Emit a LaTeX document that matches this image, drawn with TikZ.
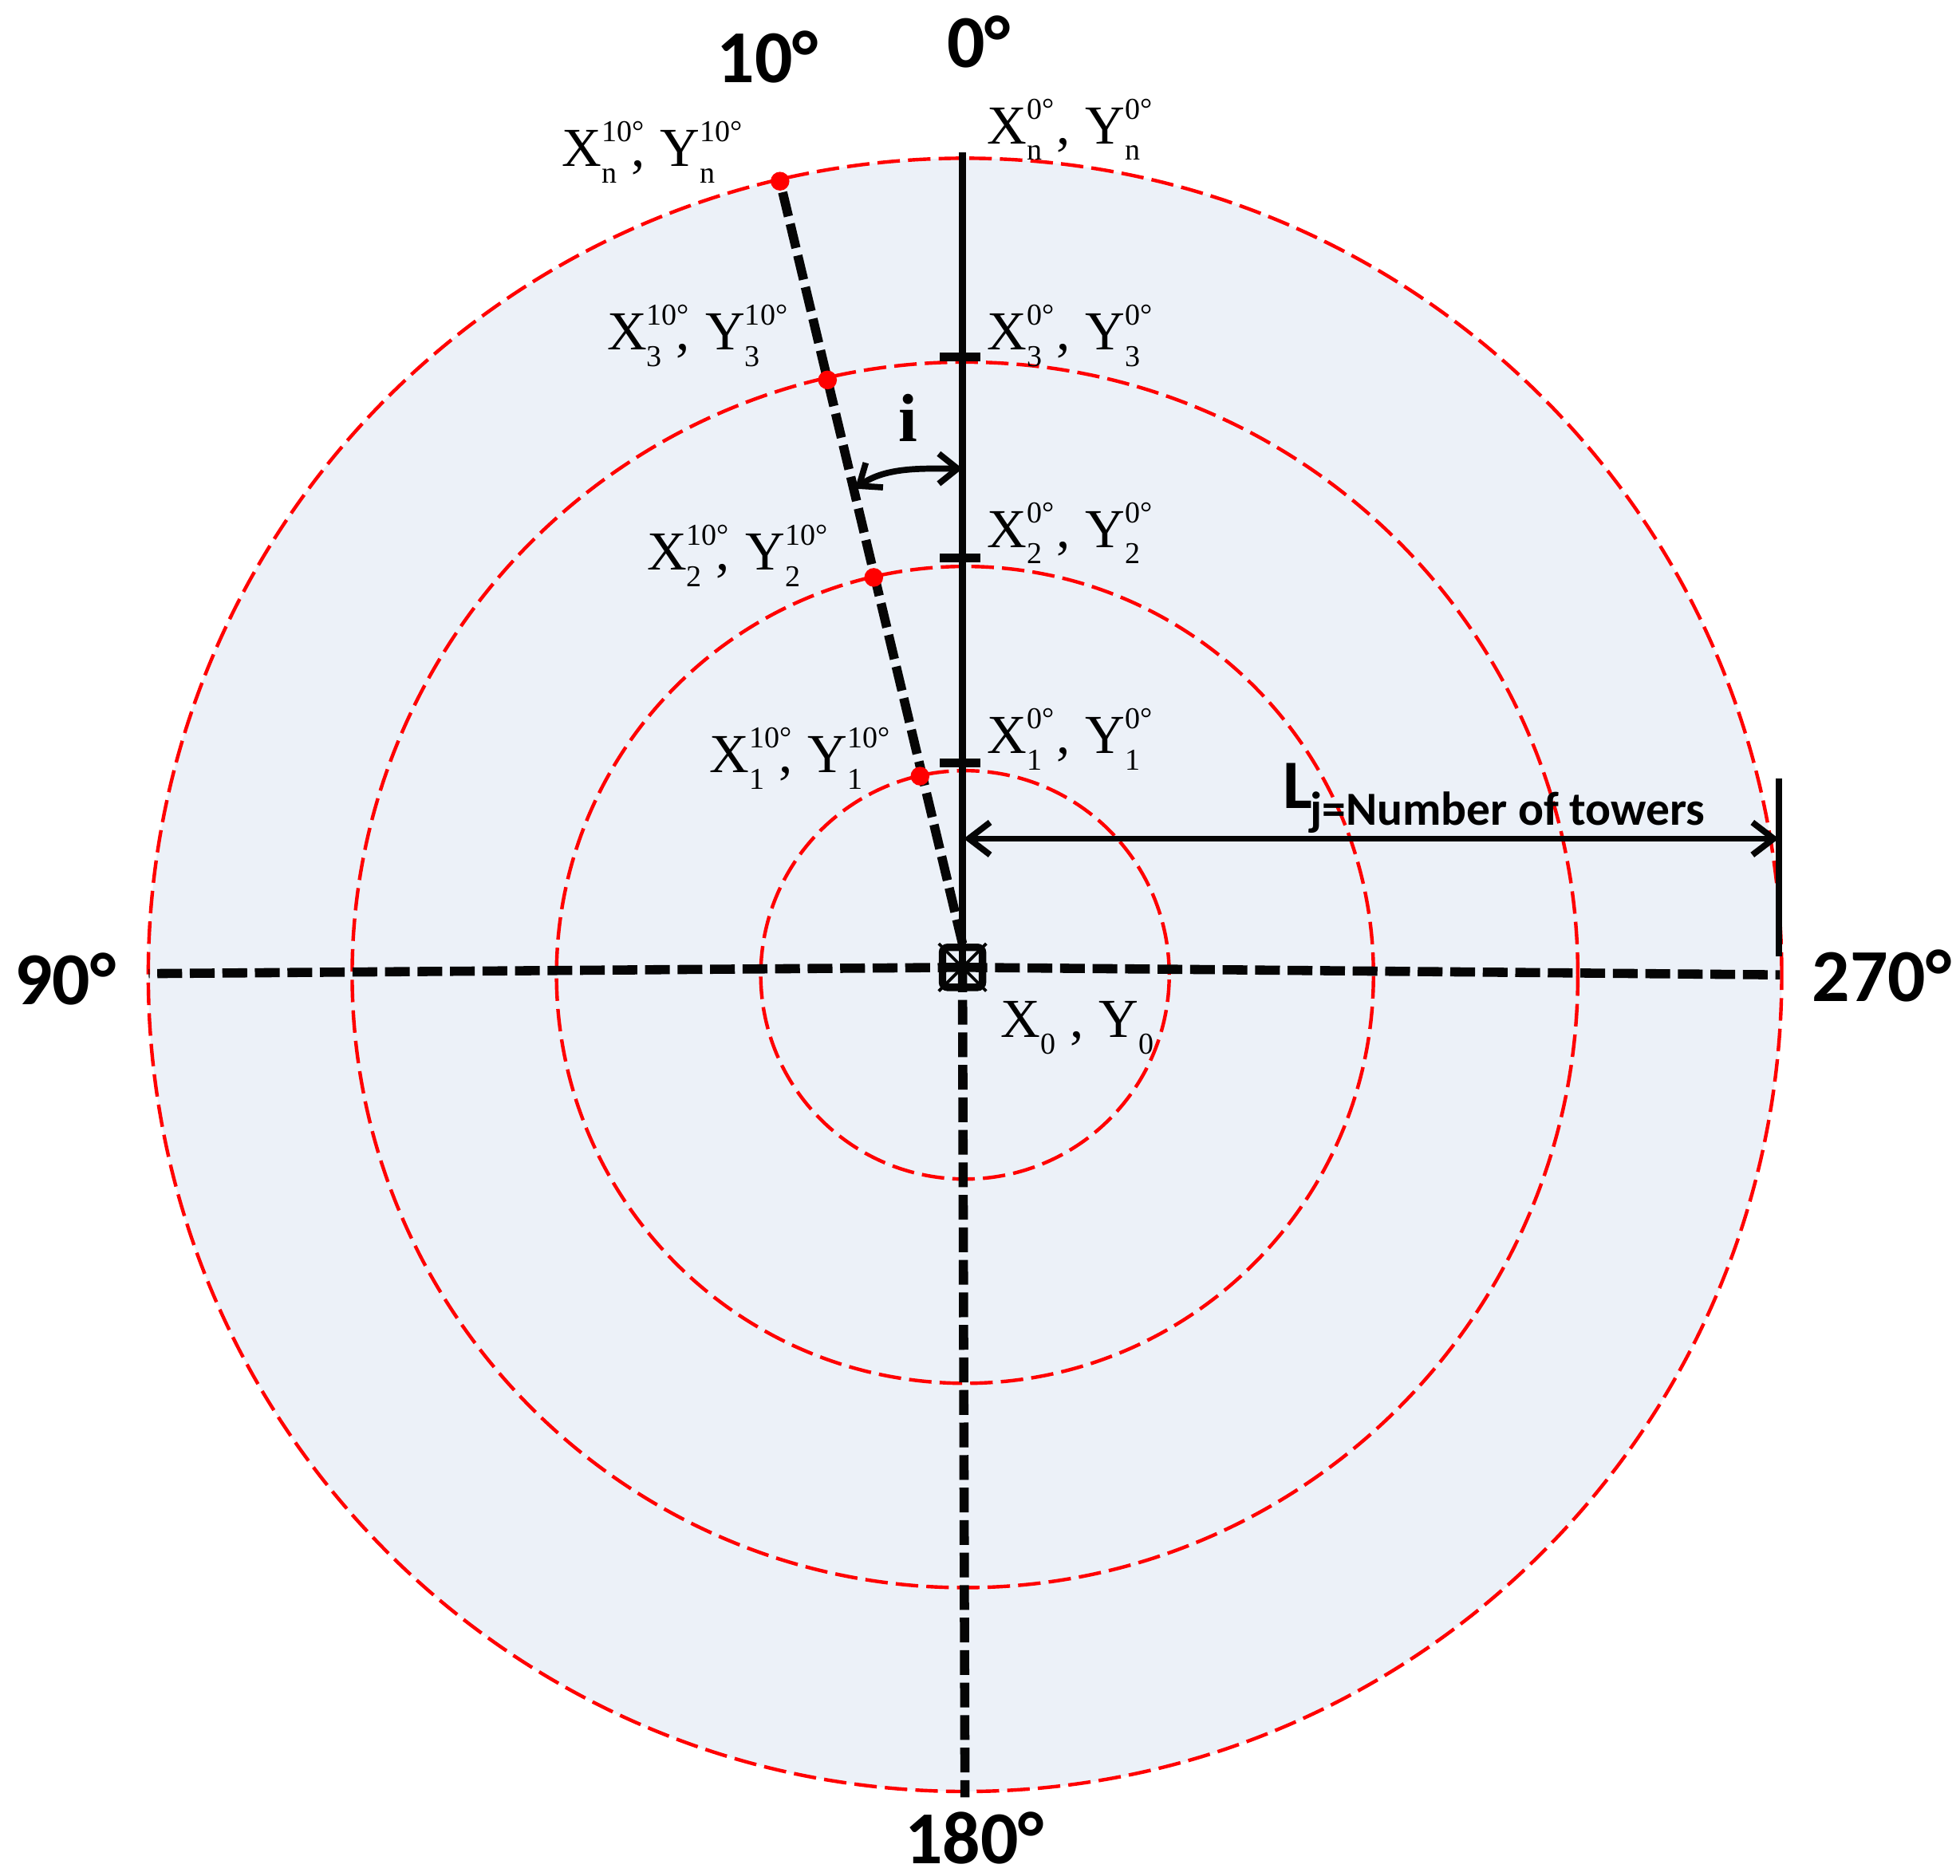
\documentclass[tikz,border=0pt]{standalone}
\usepackage{fontspec}
\setmainfont{Liberation Serif}
\newfontfamily\sansbf{Carlito}
\usetikzlibrary{arrows.meta}
\definecolor{bgfill}{RGB}{236,241,248}
\definecolor{ink}{RGB}{5,5,5}
\newlength\sscw
\newcommand\Lsc{\fontsize{6.9}{7.5}\selectfont}
\newcommand\ssc[2]{%
  \setbox0=\hbox{\Lsc #2}\setbox2=\hbox{\Lsc #1}%
  \sscw=\wd0 \ifdim\wd2>\sscw \sscw=\wd2 \fi
  \makebox[\sscw][l]{\rlap{\raisebox{0.45em}{\copy0}}\raisebox{-0.3em}{\copy2}}}
\newcommand\xylbl[2]{X\ssc{#1}{#2}\hspace{0.26em},\hspace{0.28em}Y\ssc{#1}{#2}}
\tikzset{
  reddash/.style={red, line width=0.8pt, dash pattern=on 0.18cm off 0.065cm},
  axisdash/.style={ink, line width=2.1pt, dash pattern=on 0.198cm off 0.062cm},
  solidln/.style={ink, line width=1.7pt},
  tickln/.style={ink, line width=2pt},
  reddot/.style={circle, inner sep=0pt, minimum size=0.15cm},
  lbl/.style={anchor=base west, inner sep=0pt, font=\fontsize{12.5}{14}\selectfont},
  deglbl/.style={anchor=base west, inner sep=0pt, font=\sansbf\bfseries\fontsize{17}{20}\selectfont},
  dimarrow/.style={ink, line width=1.4pt, {Straight Barb[length=0.17cm,width=0.26cm]}-{Straight Barb[length=0.17cm,width=0.26cm]}},
  arcarrow/.style={ink, line width=1.4pt, {Straight Barb[length=0.15cm,width=0.24cm]}-{Straight Barb[length=0.15cm,width=0.24cm]}},
  tower/.style={draw=ink, fill=bgfill, rectangle, rounded corners=1.2pt, line width=1.7pt, minimum size=0.32cm, inner sep=0pt}
}
\begin{document}
\begin{tikzpicture}[x=0.01cm,y=-0.01cm]
\useasboundingbox (0,0) rectangle (1568,1501);
% centres
\coordinate (C) at (772,780);
\coordinate (O) at (770,774);
% background disc and range circles
\fill[bgfill] (C) circle[radius=6.53cm];
\draw[reddash] (C) circle[radius=1.633cm];
\draw[reddash] (C) circle[radius=3.266cm];
\draw[reddash] (C) circle[radius=4.90cm];
\draw[reddash] (C) circle[radius=6.53cm];
% tower symbol
\node[tower] (sq) at (O) {};
\draw[ink, line width=0.7pt] (sq.north west) -- (sq.south east) (sq.north east) -- (sq.south west);
% axis end points
\coordinate (w) at (119,779);
\coordinate (e) at (1424,780);
\coordinate (s) at (772,1438);
\coordinate (top) at (770,122);
% red points along 10 degrees
\node[reddot] (d1) at (736,621) {};
\node[reddot] (d2) at (699,462) {};
\node[reddot] (d3) at (662,304) {};
\node[reddot] (dn) at (624,145) {};
% axes
\draw[axisdash] (O) -- (w);
\draw[axisdash] (O) -- (e);
\draw[axisdash] (O) -- (s);
\draw[axisdash] (sq.north) -- (dn.center);
\draw[solidln] (O) -- (top);
% ticks
\coordinate (t1) at (770,610.5);
\coordinate (t2) at (770,446.5);
\coordinate (t3) at (770,285.5);
\foreach \t in {t1,t2,t3}{
  \draw[tickln] ([xshift=-0.18cm]\t) -- ([xshift=0.14cm]\t);
}
% red dots on top
\foreach \d in {d1,d2,d3,dn}{ \fill[red] (\d) circle[radius=0.075cm]; }
% angle arrow
\coordinate (a1) at (770,375);
\coordinate (a2) at (684,391);
\draw[arcarrow] (a1) to[out=180, in=35, looseness=0.9] (a2);
\node[anchor=base west, inner sep=0pt, font=\bfseries\fontsize{15.5}{18}\selectfont] (ilbl) at (718,353) {i};
% length arrow
\coordinate (L1) at (771,671);
\coordinate (L2) at (1423,671);
\draw[dimarrow] (L1) -- (L2);
\coordinate (b1) at (1423,623);
\coordinate (b2) at (1423,765);
\draw[ink, line width=1.4pt] (b1) -- (b2);
\node[anchor=base west, inner sep=0pt, font=\sansbf\bfseries\fontsize{15.8}{18}\selectfont] (Llbl) at (1026,647)
  {L\hspace{-0.02cm}\raisebox{-0.135cm}{\fontsize{10.8}{12}\selectfont j=Number of towers}};
% coordinate labels
\node[lbl] (ln0) at (789,115) {\xylbl{n}{0°}};
\node[lbl] (l30) at (789,280) {\xylbl{3}{0°}};
\node[lbl] (l20) at (789,438) {\xylbl{2}{0°}};
\node[lbl] (l10) at (789,603) {\xylbl{1}{0°}};
\node[lbl] (ln10) at (449,133) {\xylbl{n}{10°}};
\node[lbl] (l310) at (485,280) {\xylbl{3}{10°}};
\node[lbl] (l210) at (517,456) {\xylbl{2}{10°}};
\node[lbl] (l110) at (567,618) {\xylbl{1}{10°}};
\node[lbl] (l0) at (800,830) {\xylbl{0}{}};
% direction labels
\node[deglbl] (g0) at (757,54) {0°};
\node[deglbl] (g10) at (573,66) {10°};
\node[deglbl] (g90) at (11,804) {90°};
\node[deglbl] (g180) at (723,1491) {180°};
\node[deglbl] (g270) at (1449,801) {270°};
\end{tikzpicture}
\end{document}
